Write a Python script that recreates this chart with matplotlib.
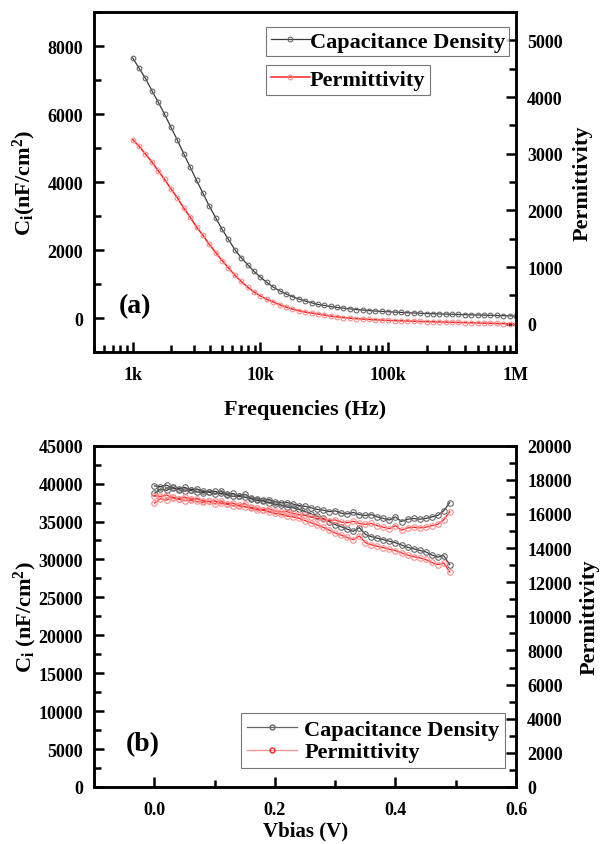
import numpy as np
import matplotlib
matplotlib.use('Agg')
import matplotlib.pyplot as plt
from matplotlib.ticker import MultipleLocator, FixedLocator, LogLocator, NullFormatter
from matplotlib.lines import Line2D

plt.rcParams['font.family'] = ['Liberation Serif', 'DejaVu Serif']
plt.rcParams['font.weight'] = 'bold'
plt.rcParams['axes.labelweight'] = 'bold'
plt.rcParams['mathtext.fontset'] = 'custom'
plt.rcParams['mathtext.rm'] = 'Liberation Serif:bold'
plt.rcParams['mathtext.bf'] = 'Liberation Serif:bold'
plt.rcParams['mathtext.it'] = 'Liberation Serif:bold'

# (a) frequency sweep, 20 points per decade from 1 kHz to 1 MHz
freq = np.logspace(3, 6, 61)
ci_freq = [7650, 7350, 7050, 6690, 6350, 5990, 5610, 5230, 4830, 4440,
           4050, 3670, 3290, 2950, 2610, 2310, 2010, 1770, 1570, 1370,
           1200, 1050, 910, 800, 710, 630, 560, 500, 450, 400,
           370, 340, 310, 290, 270, 250, 235, 220, 205, 195,
           185, 175, 165, 155, 148, 140, 133, 127, 120, 115,
           110, 105, 100, 95, 90, 85, 80, 75, 70, 65, 60]
perm_freq = [3250, 3130, 2995, 2855, 2700, 2545, 2380, 2220, 2040, 1880,
             1705, 1560, 1400, 1255, 1115, 985, 855, 745, 645, 560,
             488, 430, 382, 335, 294, 259, 229, 206, 188, 171,
             153, 135, 120, 108, 98, 90, 82, 75, 69, 64,
             59, 55, 51, 47, 44, 40, 37, 34, 31, 28,
             25, 22, 19, 16, 13, 10, 7, 4, 1, -2, -5]

# (b) bias sweep, two branches
vbias = np.arange(0, 0.495, 0.01)
ci_up = [38700, 39300, 39100, 39500, 39200, 39000, 39100, 38900, 38800, 38900,
         38600, 39000, 38500, 38300, 38400, 38600, 38100, 38000, 37800, 37900,
         37600, 37500, 37500, 37300, 37100, 37000, 36800, 36600, 36500, 36300,
         36400, 36100, 36000, 36200, 35900, 35800, 35900, 35600, 35400, 35200,
         35600, 35000, 35300, 35400, 35300, 35400, 35600, 35800, 36400, 37500]
ci_down = [39700, 39600, 39800, 39400, 39300, 39500, 39200, 39300, 39000, 38900,
           39000, 38700, 38600, 38700, 38300, 38200, 38000, 37800, 37700, 37500,
           37300, 37200, 36900, 36800, 36600, 36300, 36000, 35700, 35400, 35000,
           34600, 34300, 34000, 33700, 34200, 33300, 33000, 32800, 32600, 32400,
           32200, 31900, 31600, 31400, 31200, 31000, 30600, 30300, 30500, 29300]
perm_up = [16640, 16900, 16810, 16990, 16860, 16770, 16810, 16730, 16680, 16730,
           16600, 16770, 16560, 16470, 16510, 16600, 16380, 16340, 16250, 16300,
           16170, 16130, 16130, 16040, 15950, 15910, 15820, 15740, 15700, 15610,
           15650, 15520, 15480, 15570, 15440, 15390, 15440, 15310, 15220, 15140,
           15310, 15050, 15180, 15220, 15180, 15220, 15310, 15390, 15650, 16130]
perm_down = [17070, 17030, 17110, 16940, 16900, 16990, 16860, 16900, 16770, 16730,
             16770, 16640, 16600, 16640, 16470, 16430, 16340, 16250, 16210, 16130,
             16040, 16000, 15870, 15820, 15740, 15610, 15480, 15350, 15220, 15050,
             14880, 14750, 14620, 14490, 14710, 14320, 14190, 14100, 14020, 13930,
             13850, 13720, 13590, 13500, 13420, 13330, 13160, 13030, 13120, 12600]

BLK = '#3a3a3a'
BLK_M = '#666666'
RED = '#ff2020'
RED_M = '#ff8c8c'
FS_TICK = 13
FS_LAB = 16
FS_LEG = 16


def style_axes(ax, right=False):
    for s in ax.spines.values():
        s.set_linewidth(1.8)
    side = dict(left=not right, right=right, top=False, bottom=not right)
    ax.tick_params(which='both', direction='in', width=1.8, labelsize=FS_TICK, **side)
    ax.tick_params(axis='y', pad=8)
    ax.tick_params(axis='x', pad=10)
    if right:
        ax.tick_params(labelright=True, labelleft=False)
    ax.tick_params(which='major', length=7)
    ax.tick_params(which='minor', length=5)


fig = plt.figure(figsize=(6, 8.45), dpi=100)

# ---------------- (a) ----------------
ax1 = fig.add_axes([0.157, 0.5822, 0.703, 0.4024])
ax2 = ax1.twinx()
l1, = ax1.plot(freq, ci_freq, '-o', color=BLK, lw=0.9, ms=3.4, mfc='none',
               mec=BLK_M, mew=0.8, label='Capacitance Density')
l2, = ax2.plot(freq, perm_freq, '-o', color=RED, lw=1.1, ms=3.4, mfc='none',
               mec=RED_M, mew=0.8, label='Permittivity')
ax1.set_xscale('log')
ax1.set_xlim(500, 1e6)
ax1.set_ylim(-1000, 9000)
ax2.set_ylim(-500, 5500)
ax1.xaxis.set_major_locator(FixedLocator([1e3, 1e4, 1e5, 1e6]))
ax1.set_xticklabels(['1k', '10k', '100k', '1M'])
ax1.xaxis.set_minor_locator(LogLocator(base=10, subs=np.arange(2, 10), numticks=20))
ax1.xaxis.set_minor_formatter(NullFormatter())
ax1.yaxis.set_major_locator(FixedLocator([0, 2000, 4000, 6000, 8000]))
ax1.yaxis.set_minor_locator(MultipleLocator(1000))
ax2.yaxis.set_major_locator(FixedLocator([0, 1000, 2000, 3000, 4000, 5000]))
ax2.yaxis.set_minor_locator(MultipleLocator(500))
style_axes(ax1)
style_axes(ax2, right=True)
ax1.set_xlabel('Frequencies (Hz)', fontsize=FS_LAB)
ax1.set_ylabel(r'C$_\mathrm{i}$(nF/cm$^\mathrm{2}$)', fontsize=FS_LAB)
ax2.set_ylabel('Permittivity', fontsize=FS_LAB)
ax1.xaxis.set_label_coords(0.5, -0.138)
ax1.yaxis.set_label_coords(-0.133, 0.5)
ax2.yaxis.set_label_coords(1.135, 0.5)
ax1.text(0.097, 0.138, '(a)', transform=ax1.transAxes, fontsize=20,
         ha='center', va='center')

leg_kw = dict(frameon=True, fancybox=False, fontsize=FS_LEG, handlelength=1.75,
              handletextpad=0.0, borderpad=0.2, borderaxespad=0)
lg1 = ax2.legend(handles=[l1], loc='upper left', bbox_to_anchor=(0.408, 0.956), **leg_kw)
lg1.get_frame().set_edgecolor('#555555')
lg1.get_frame().set_linewidth(0.8)
ax2.add_artist(lg1)
lg2 = ax2.legend(handles=[l2], loc='upper left', bbox_to_anchor=(0.408, 0.844), **leg_kw)
lg2.get_frame().set_edgecolor('#555555')
lg2.get_frame().set_linewidth(0.8)

# ---------------- (b) ----------------
ax3 = fig.add_axes([0.157, 0.0675, 0.703, 0.4039])
ax4 = ax3.twinx()
for ys in (ci_up, ci_down):
    ax3.plot(vbias, ys, '-o', color=BLK, lw=0.9, ms=4, mfc='none',
             mec=BLK_M, mew=0.8)
for ys in (perm_up, perm_down):
    ax4.plot(vbias, ys, '-o', color=RED, lw=0.9, ms=4, mfc='none',
             mec=RED_M, mew=0.8)
ax3.set_xlim(-0.1, 0.6)
ax3.set_ylim(0, 45000)
ax4.set_ylim(0, 20000)
ax3.xaxis.set_major_locator(FixedLocator([0.0, 0.2, 0.4, 0.6]))
ax3.set_xticklabels(['0.0', '0.2', '0.4', '0.6'])
ax3.xaxis.set_minor_locator(MultipleLocator(0.1))
ax3.yaxis.set_major_locator(MultipleLocator(5000))
ax3.yaxis.set_minor_locator(MultipleLocator(2500))
ax4.yaxis.set_major_locator(MultipleLocator(2000))
ax4.yaxis.set_minor_locator(MultipleLocator(1000))
style_axes(ax3)
style_axes(ax4, right=True)
ax3.set_xlabel('Vbias (V)', fontsize=15)
ax3.set_ylabel(r'C$_\mathrm{i}$ (nF/cm$^\mathrm{2}$)', fontsize=FS_LAB)
ax4.set_ylabel('Permittivity', fontsize=FS_LAB)
ax3.xaxis.set_label_coords(0.5, -0.098)
ax3.yaxis.set_label_coords(-0.13, 0.5)
ax4.yaxis.set_label_coords(1.15, 0.5)
ax3.text(0.114, 0.126, '(b)', transform=ax3.transAxes, fontsize=20,
         ha='center', va='center')

h1 = Line2D([], [], color=BLK_M, lw=0.9, marker='o', ms=3.5, mfc='none', mec=BLK_M)
h2 = Line2D([], [], color=RED_M, lw=0.9, marker='o', ms=3.5, mfc='none', mec=RED)
lg3 = ax4.legend([h1, h2], ['Capacitance Density', 'Permittivity'], loc='lower right',
                 bbox_to_anchor=(0.974, 0.056), frameon=True, fancybox=False,
                 fontsize=FS_LEG, handlelength=2.25, handletextpad=0.35,
                 borderpad=0.25, borderaxespad=0, labelspacing=0.1)
lg3.get_frame().set_edgecolor('#555555')
lg3.get_frame().set_linewidth(0.8)

fig.savefig('out.png', dpi=100)
